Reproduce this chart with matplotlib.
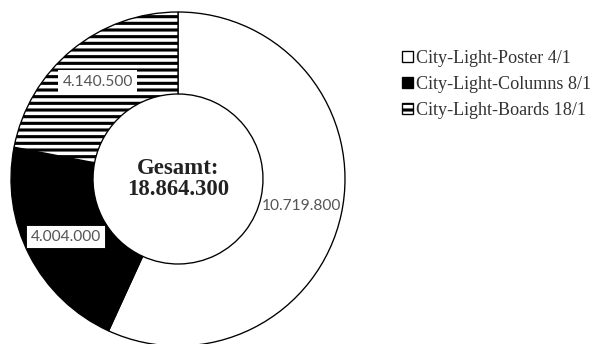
import matplotlib
matplotlib.use("Agg")
import matplotlib.pyplot as plt

# Werbeträger und Kontakte
names = ["City-Light-Poster 4/1", "City-Light-Columns 8/1", "City-Light-Boards 18/1"]
values = [10719800, 4004000, 4140500]
total = 18864300

faces = ["white", "black", "white"]
hatches = [None, None, "--"]

DPI = 80
W, H = 594, 344

plt.rcParams["hatch.linewidth"] = 2.8
plt.rcParams["hatch.color"] = "black"


def de_num(v):
    # Tausenderpunkt statt Komma
    return f"{v:,}".replace(",", ".")


fig = plt.figure(figsize=(W / DPI, H / DPI), dpi=DPI)
ax = fig.add_axes([0, 0, 1, 1])

# Ring in Pixelkoordinaten: Mitte (178, 179), außen 167, innen 85
cx, cy, r_out, r_in = 178, H - 179, 167, 85
wedges, texts = ax.pie(
    values,
    labels=[de_num(v) for v in values],
    colors=faces,
    startangle=90,
    counterclock=False,
    center=(cx, cy),
    radius=r_out,
    labeldistance=(r_out + r_in) / 2 / r_out,
    wedgeprops=dict(width=r_out - r_in, edgecolor="black", linewidth=1.2),
    textprops=dict(family="Lato", fontsize=14, color="#555555"),
)
for w, h in zip(wedges, hatches):
    if h:
        w.set_hatch(h)

for t in texts:
    t.set_ha("center")
    t.set_va("center")
texts[1].set_bbox(dict(facecolor="white", edgecolor="black", linewidth=0.8,
                       boxstyle="square,pad=0.28"))
texts[2].set_bbox(dict(facecolor="white", edgecolor="none",
                       boxstyle="square,pad=0.28"))

ax.text(cx, cy, "Gesamt:\n" + de_num(total), ha="center", va="center",
        family="Liberation Serif", fontsize=20.5, fontweight="bold",
        color="#222222", linespacing=1.0)

ax.set_xlim(0, W)
ax.set_ylim(0, H)
ax.set_aspect("equal")
ax.axis("off")

fig.legend(wedges, names, loc="upper left", bbox_to_anchor=(402 / W, 1 - 50 / H),
           frameon=False, borderpad=0, borderaxespad=0,
           handlelength=0.6, handleheight=0.6, handletextpad=0.15,
           labelspacing=0.5,
           prop=dict(family="Liberation Serif", size=16.3), labelcolor="#333333")

fig.savefig("out.png", dpi=DPI)
